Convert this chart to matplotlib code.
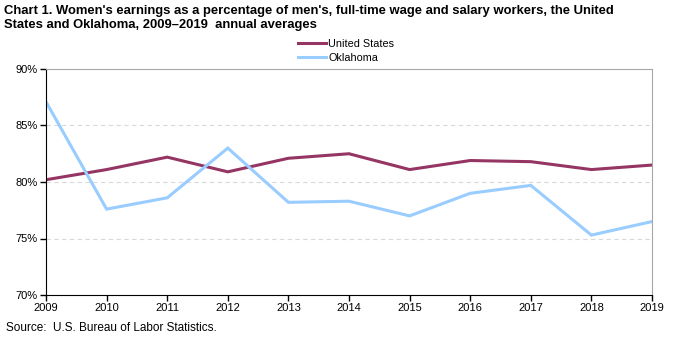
import matplotlib
matplotlib.use("Agg")
from matplotlib import pyplot as plt
from matplotlib.ticker import FuncFormatter

plt.rcParams['font.family'] = ['Liberation Sans', 'DejaVu Sans']

# Data
years = [2009, 2010, 2011, 2012, 2013, 2014, 2015, 2016, 2017, 2018, 2019]
us_pct = [80.2, 81.1, 82.2, 80.9, 82.1, 82.5, 81.1, 81.9, 81.8, 81.1, 81.5]
ok_pct = [87.1, 77.6, 78.6, 83.0, 78.2, 78.3, 77.0, 79.0, 79.7, 75.3, 76.5]
series_labels = ['United States', 'Oklahoma']

W, H = 673, 337
fig = plt.figure(figsize=(W / 100, H / 100), dpi=100)
ax = fig.add_axes([46 / W, 1 - 295 / H, (652 - 46) / W, (295 - 69) / H])

l1, = ax.plot(years, us_pct, color='#953563', linewidth=2.2, solid_joinstyle='miter')
l2, = ax.plot(years, ok_pct, color='#99CCFF', linewidth=2.2, solid_joinstyle='miter')

ax.set_xlim(2009, 2019)
ax.set_ylim(70, 90)
ax.set_xticks(years)
ax.set_yticks([70, 75, 80, 85, 90])
ax.yaxis.set_major_formatter(FuncFormatter(lambda v, p: f'{v:.0f}%'))
ax.tick_params(labelsize=8, length=4, width=1, color='black', pad=2)

for y in [75, 80, 85]:
    ax.axhline(y, color='#D9D9D9', linewidth=0.8, linestyle=(0, (4, 3)), zorder=0)

ax.spines['left'].set_color('black')
ax.spines['bottom'].set_color('black')
ax.spines['top'].set_color('#A6A6A6')
ax.spines['right'].set_color('#A6A6A6')

fig.text(4 / W, 1 - 18 / H,
         "Chart 1. Women's earnings as a percentage of men's, full-time wage and salary workers, the United\n"
         "States and Oklahoma, 2009\u20132019  annual averages",
         fontsize=9.4, fontweight='bold', ha='left', va='center', linespacing=1.25)

leg = fig.legend([l1, l2], series_labels, loc='upper left',
                 bbox_to_anchor=(298 / W, 1 - 39 / H), frameon=False,
                 fontsize=7.8, handlelength=2.6, handletextpad=0.2,
                 labelspacing=0.35, borderpad=0, borderaxespad=0)

fig.text(6 / W, 1 - 328 / H, 'Source:  U.S. Bureau of Labor Statistics.',
         fontsize=8.5, ha='left', va='center')

fig.savefig('out.png', dpi=100)
